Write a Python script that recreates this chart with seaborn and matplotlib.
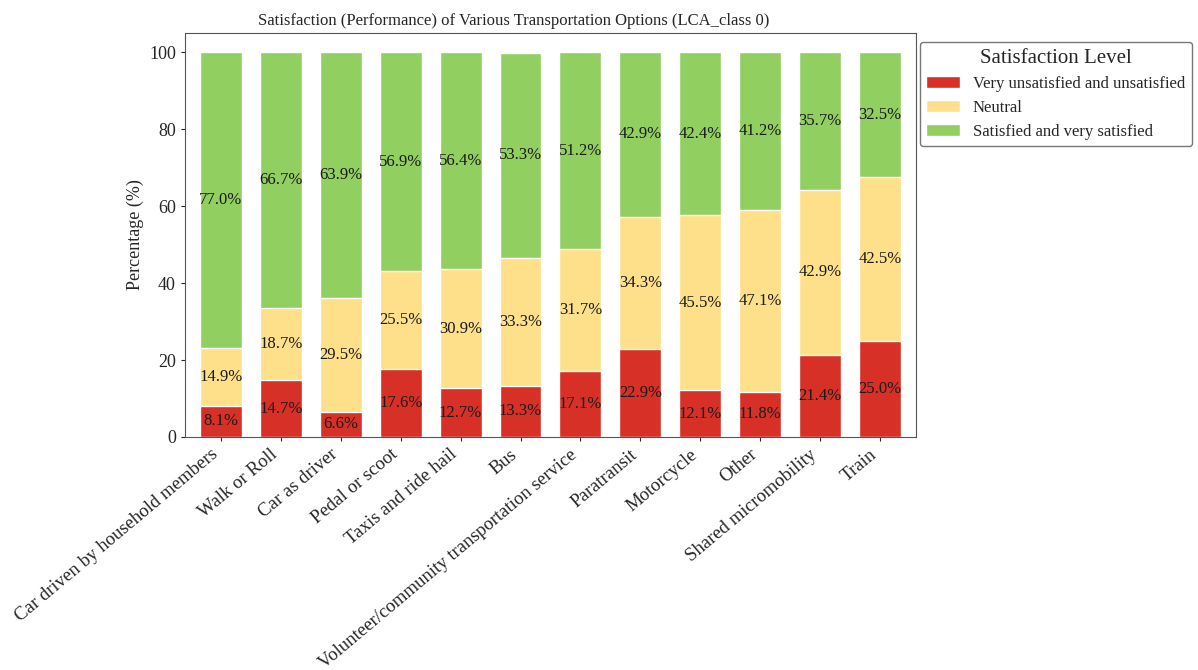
import numpy as np
import pandas as pd
import seaborn as sns
import matplotlib.pyplot as plt
from matplotlib.patches import Patch

# values
modes = ["Car driven by household members", "Walk or Roll", "Car as driver",
         "Pedal or scoot", "Taxis and ride hail", "Bus",
         "Volunteer/community transportation service", "Paratransit",
         "Motorcycle", "Other", "Shared micromobility", "Train"]
unsatisfied = [8.1, 14.7, 6.6, 17.6, 12.7, 13.3, 17.1, 22.9, 12.1, 11.8, 21.4, 25.0]
neutral = [14.9, 18.7, 29.5, 25.5, 30.9, 33.3, 31.7, 34.3, 45.5, 47.1, 42.9, 42.5]
satisfied = [77.0, 66.7, 63.9, 56.9, 56.4, 53.3, 51.2, 42.9, 42.4, 41.2, 35.7, 32.5]
levels = ["Very unsatisfied and unsatisfied", "Neutral", "Satisfied and very satisfied"]
colors = ["#d73027", "#fee08b", "#91cf60"]

sns.set_style("white")
plt.rcParams['font.family'] = ['Liberation Serif', 'DejaVu Serif']

df = pd.DataFrame({'Mode': modes, 'u': unsatisfied, 'n': neutral, 's': satisfied})
df['top_u'] = df['u']
df['top_n'] = df['u'] + df['n']
df['top_s'] = df['u'] + df['n'] + df['s']

fig = plt.figure(figsize=(11.98, 6.70), dpi=100)
ax = fig.add_axes([0.1544, 0.3478, 0.6102, 0.6030])

# draw cumulative heights from the top layer down so they stack
for col, c in zip(['top_s', 'top_n', 'top_u'], colors[::-1]):
    sns.barplot(data=df, x='Mode', y=col, color=c, width=0.7, ax=ax,
                saturation=1, errorbar=None)

for i in range(len(modes)):
    bottom = 0
    for v in (unsatisfied[i], neutral[i], satisfied[i]):
        ax.text(i, bottom + v / 2, f"{v:.1f}%", ha='center', va='center',
                fontsize=12, color='#1a1a1a')
        bottom += v

ax.set_xlim(-0.6, 11.6)
ax.set_ylim(0, 105)
ax.set_yticks([0, 20, 40, 60, 80, 100])
ax.tick_params(axis='y', labelsize=13, length=3, left=True)
ax.tick_params(axis='x', labelsize=13.5, length=3, bottom=True)
plt.setp(ax.get_xticklabels(), rotation=40, ha='right')
ax.set_xlabel('')
ax.set_ylabel('Percentage (%)', fontsize=13)
ax.set_title('Satisfaction (Performance) of Various Transportation Options (LCA_class 0)',
             fontsize=12, x=0.449)
for sp in ax.spines.values():
    sp.set_color('#555555')

handles = [Patch(facecolor=c, label=l) for c, l in zip(colors, levels)]
ax.legend(handles=handles, title='Satisfaction Level', loc='upper left',
          bbox_to_anchor=(1.005, 0.978), fontsize=12, title_fontsize=15,
          frameon=True, edgecolor='#555555', fancybox=True, handlelength=2.0,
          labelspacing=0.48, borderaxespad=0)

plt.savefig('out.png', dpi=100)
